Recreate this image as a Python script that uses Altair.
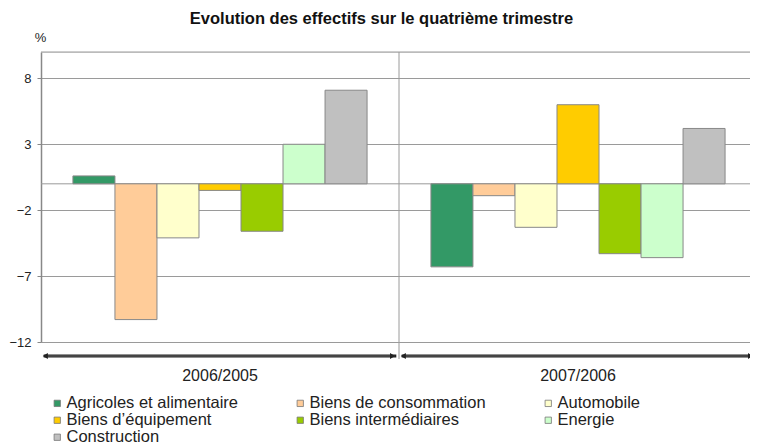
import altair as alt
import pandas as pd

groups = ["2006/2005", "2007/2006"]
series = [
    "Agricoles et alimentaire",
    "Biens de consommation",
    "Automobile",
    "Biens d\u2019\u00e9quipement",
    "Biens interm\u00e9diaires",
    "Energie",
    "Construction",
]
values_2006 = [0.6, -10.3, -4.1, -0.5, -3.6, 3.0, 7.1]
values_2007 = [-6.3, -0.9, -3.3, 6.0, -5.3, -5.6, 4.2]
colors = ["#339966", "#FFCC99", "#FFFFCC", "#FFCC00", "#99CC00", "#CCFFCC", "#C0C0C0"]
y_ticks = [-12, -7, -2, 3, 8]

rows = []
for s, v in zip(series, values_2006):
    rows.append({"group": groups[0], "series": s, "value": v})
for s, v in zip(series, values_2007):
    rows.append({"group": groups[1], "series": s, "value": v})
df = pd.DataFrame(rows)

W, H = 709, 290
XR = 716
FONT = "Liberation Sans"

xscale = alt.Scale(domain=groups, paddingInner=0, paddingOuter=0, range=[0, XR])
yscale = alt.Scale(domain=[-12, 10], nice=False, zero=False)

xaxis = alt.Axis(title=None, labelAngle=0, labelFontSize=16, labelFont=FONT,
                 labelColor="#222", domain=False, ticks=False, tickSize=0,
                 labelPadding=25, grid=False)
yaxis = alt.Axis(values=y_ticks, title="%", titleAngle=0, titleX=-1, titleY=-15,
                 titleAlign="center", titleBaseline="middle", titleFontSize=13,
                 titleFontWeight="normal", titleFont=FONT, titleColor="#222",
                 labelFontSize=13, labelFont=FONT, labelColor="#222",
                 gridColor="#9a9a9a", domainColor="#888", domainWidth=1.5,
                 tickColor="#888", tickSize=4, labelPadding=6)

bars = alt.Chart(df).mark_bar(stroke="#888", strokeWidth=1).encode(
    x=alt.X("group:N", scale=xscale, sort=groups, title=None, axis=xaxis),
    xOffset=alt.XOffset("series:N", sort=series,
                        scale=alt.Scale(domain=series, paddingOuter=0.76, paddingInner=0)),
    y=alt.Y("value:Q", scale=yscale, title="%", axis=yaxis),
    color=alt.Color("series:N", scale=alt.Scale(domain=series, range=colors),
                    legend=alt.Legend(orient="none", legendX=8, legendY=343, columns=3,
                                      direction="horizontal", title=None, labelFontSize=16.5,
                                      labelFont=FONT, labelColor="#222", symbolType="square",
                                      symbolSize=40, symbolStrokeColor="#777",
                                      symbolStrokeWidth=0.8, labelOffset=1, columnPadding=54,
                                      rowPadding=0, gridAlign="each", labelLimit=300)),
)

lines_df = pd.DataFrame({"value": [10, 0]})
hlines = alt.Chart(lines_df).mark_rule(color="#9a9a9a", strokeWidth=1).encode(
    y=alt.Y("value:Q", scale=yscale, title="%", axis=yaxis)
)

div_df = pd.DataFrame({"group": [groups[1]]})
divider = alt.Chart(div_df).mark_rule(color="#9a9a9a", strokeWidth=1).encode(
    x=alt.X("group:N", bandPosition=0, title=None, axis=xaxis),
    y=alt.value(0),
    y2=alt.value(H + 17),
)

arr_df = pd.DataFrame({"group": groups})
AY = H + 14
arrow_body = alt.Chart(arr_df).mark_bar(color="#222", width=alt.RelativeBandSize(0.985)).encode(
    x=alt.X("group:N", title=None, axis=xaxis),
    y=alt.value(AY - 1.5),
    y2=alt.value(AY + 1.5),
)
arrow_mid = alt.Chart(arr_df).mark_bar(color="#aaa", width=alt.RelativeBandSize(0.975)).encode(
    x=alt.X("group:N", title=None, axis=xaxis),
    y=alt.value(AY - 0.3),
    y2=alt.value(AY + 0.3),
)
arrow_left = alt.Chart(arr_df).mark_point(shape="triangle-left", filled=True, color="#222",
                                          size=35, opacity=1).encode(
    x=alt.X("group:N", bandPosition=0.012, title=None, axis=xaxis),
    y=alt.value(AY),
)
arrow_right = alt.Chart(arr_df).mark_point(shape="triangle-right", filled=True, color="#222",
                                           size=35, opacity=1).encode(
    x=alt.X("group:N", bandPosition=0.982, title=None, axis=xaxis),
    y=alt.value(AY),
)

chart = alt.layer(
    hlines, bars, divider, arrow_body, arrow_mid, arrow_left, arrow_right
).properties(
    width=W,
    height=H,
    title=alt.TitleParams(
        "Evolution des effectifs sur le quatri\u00e8me trimestre",
        fontSize=16.5, font=FONT, fontWeight="bold", anchor="middle", offset=4, dx=-14,
        color="#111",
    ),
    autosize=alt.AutoSizeParams(type="none"),
    padding={"left": 33, "top": 44, "right": 0, "bottom": 104},
).configure_view(stroke=None).configure(font=FONT)

chart.save("out.html", embed_options={"renderer": "svg", "actions": False})
